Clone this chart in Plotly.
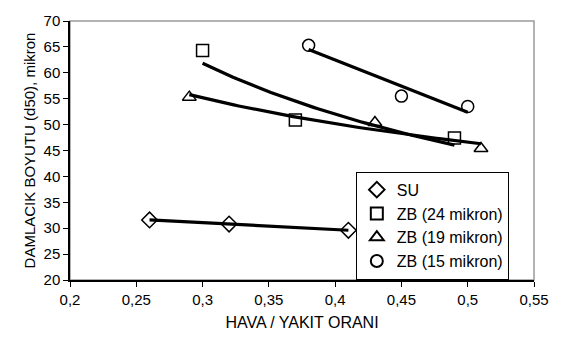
import numpy as np
import plotly.graph_objects as go

names = ["SU", "ZB (24 mikron)", "ZB (19 mikron)", "ZB (15 mikron)"]
su_x = [0.26, 0.32, 0.41]
su_y = [31.6, 30.8, 29.6]
zb24_x = [0.30, 0.37, 0.49]
zb24_y = [64.3, 50.9, 47.4]
zb19_x = [0.29, 0.43, 0.51]
zb19_y = [55.3, 50.4, 45.4]
zb15_x = [0.38, 0.45, 0.50]
zb15_y = [65.3, 55.5, 53.5]
symbols = ["diamond-open", "square-open", "triangle-up-open", "circle-open"]
fit_types = ["linear", "power", "power", "linear"]

series = [(su_x, su_y), (zb24_x, zb24_y), (zb19_x, zb19_y), (zb15_x, zb15_y)]

fig = go.Figure()
# trend lines fitted from the data
for i, (xs, ys) in enumerate(series):
    xs = np.array(xs); ys = np.array(ys)
    xx = np.linspace(xs.min(), xs.max(), 60)
    if fit_types[i] == "power":
        b, lna = np.polyfit(np.log(xs), np.log(ys), 1)
        yy = np.exp(lna) * xx ** b
    else:
        m, c = np.polyfit(xs, ys, 1)
        yy = m * xx + c
    fig.add_trace(go.Scatter(x=xx, y=yy, mode="lines", showlegend=False,
                             line=dict(color="black", width=3.2), hoverinfo="skip"))
for i, (xs, ys) in enumerate(series):
    fig.add_trace(go.Scatter(x=xs, y=ys, mode="markers", name=names[i],
                             legendgroup=str(i),
                             marker=dict(symbol=symbols[i], size=12, color="black",
                                         line=dict(color="black", width=1.5))))

fig.update_layout(
    width=561, height=341,
    margin=dict(l=70, r=24, t=14, b=60),
    paper_bgcolor="white", plot_bgcolor="white",
    separators=", ",
    font=dict(family="Liberation Sans, Arial, sans-serif", size=15, color="black"),
    showlegend=True,
    legend=dict(x=0.616, y=0.418, xanchor="left", yanchor="top",
                bordercolor="black", borderwidth=1, bgcolor="white",
                font=dict(size=16), tracegroupgap=0, itemsizing="constant",
                itemwidth=30),
    xaxis=dict(range=[0.2, 0.55], tickvals=[0.2, 0.25, 0.3, 0.35, 0.4, 0.45, 0.5, 0.55],
               ticktext=["0,2", "0,25", "0,3", "0,35", "0,4", "0,45", "0,5", "0,55"],
               showline=True, linecolor="black", linewidth=1.5, ticks="outside",
               ticklen=5, tickcolor="black", showgrid=False, zeroline=False,
               tickfont=dict(size=15),
               title=dict(text="HAVA / YAKIT ORANI", font=dict(size=16), standoff=10)),
    yaxis=dict(range=[20, 70], dtick=5, showline=True, linecolor="black", linewidth=1.5,
               ticks="outside", ticklen=5, tickcolor="black", showgrid=False,
               zeroline=False, tickfont=dict(size=15),
               title=dict(text="DAMLACIK BOYUTU (d50), mikron", font=dict(size=15), standoff=4)),
    shapes=[dict(type="rect", xref="paper", yref="paper", x0=0, y0=0, x1=1, y1=1,
                 line=dict(color="#999999", width=1.5), layer="below")],
)
fig.write_html("out.html")
